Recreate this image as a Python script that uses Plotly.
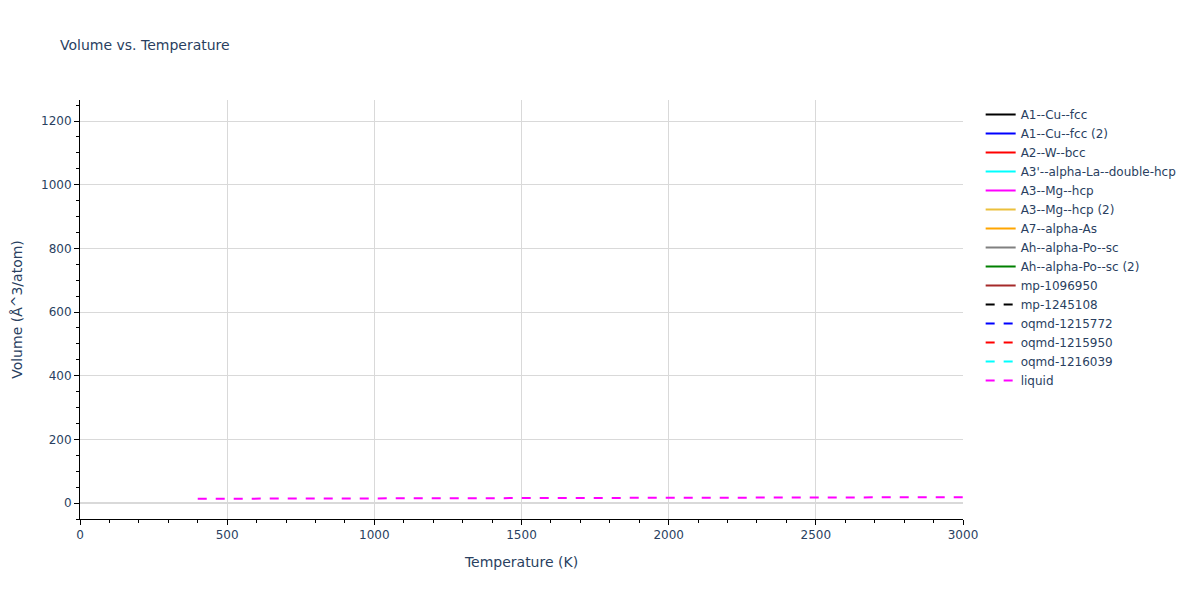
import plotly.graph_objects as go

# Phase names, colours and dash styles (legend order)
names = ["A1--Cu--fcc", "A1--Cu--fcc (2)", "A2--W--bcc", "A3'--alpha-La--double-hcp",
         "A3--Mg--hcp", "A3--Mg--hcp (2)", "A7--alpha-As", "Ah--alpha-Po--sc",
         "Ah--alpha-Po--sc (2)", "mp-1096950", "mp-1245108", "oqmd-1215772",
         "oqmd-1215950", "oqmd-1216039", "liquid"]
colors = ["black", "blue", "red", "cyan", "magenta", "#EBC03C", "orange", "gray",
          "green", "brown", "black", "blue", "red", "cyan", "magenta"]
dashes = ["solid"] * 10 + ["dash"] * 5

# Liquid volume vs temperature
liquid_T = [400, 600, 800, 1000, 1200, 1400, 1600, 1800, 2000, 2200, 2400, 2600, 2800, 3000]
liquid_V = [13.6, 13.9, 14.2, 14.5, 14.9, 15.3, 15.7, 16.1, 16.5, 16.9, 17.3, 17.7, 18.1, 18.5]

x_range = [0, 3000]
y_range = [-50, 1266]

fig = go.Figure()
for n, c, d in zip(names, colors, dashes):
    if n == "liquid":
        xs, ys = liquid_T, liquid_V
    else:
        xs, ys = [None], [None]
    fig.add_trace(go.Scatter(x=xs, y=ys, mode="lines", name=n, showlegend=True,
                             line=dict(color=c, dash=d, width=2)))

axis_common = dict(showline=True, linecolor="black", linewidth=1, ticks="outside",
                   tickcolor="black", showgrid=True, gridcolor="#d9d9d9",
                   zeroline=True, zerolinecolor="#d9d9d9", zerolinewidth=2,
                   mirror=False)

fig.update_layout(
    template="plotly_white",
    width=1200, height=600,
    showlegend=True,
    title=dict(text="Volume vs. Temperature", x=0.05, font=dict(size=14)),
    font=dict(family="DejaVu Sans", size=12),
    margin=dict(l=80, r=237, t=100, b=81),
    xaxis=dict(title=dict(text="Temperature (K)", font=dict(size=14)), range=x_range, dtick=500,
               minor=dict(ticks="outside", dtick=100, tickcolor="black", showgrid=False),
               **axis_common),
    yaxis=dict(title=dict(text="Volume (Å^3/atom)", font=dict(size=14)), range=y_range, dtick=200,
               minor=dict(ticks="outside", dtick=50, tickcolor="black", showgrid=False),
               **axis_common),
    legend=dict(x=1.02, y=1, xanchor="left", yanchor="top"),
)

fig.write_html("out.html", config={"displayModeBar": False},
               post_script="document.body.style.margin='0';document.body.style.overflow='hidden';")
